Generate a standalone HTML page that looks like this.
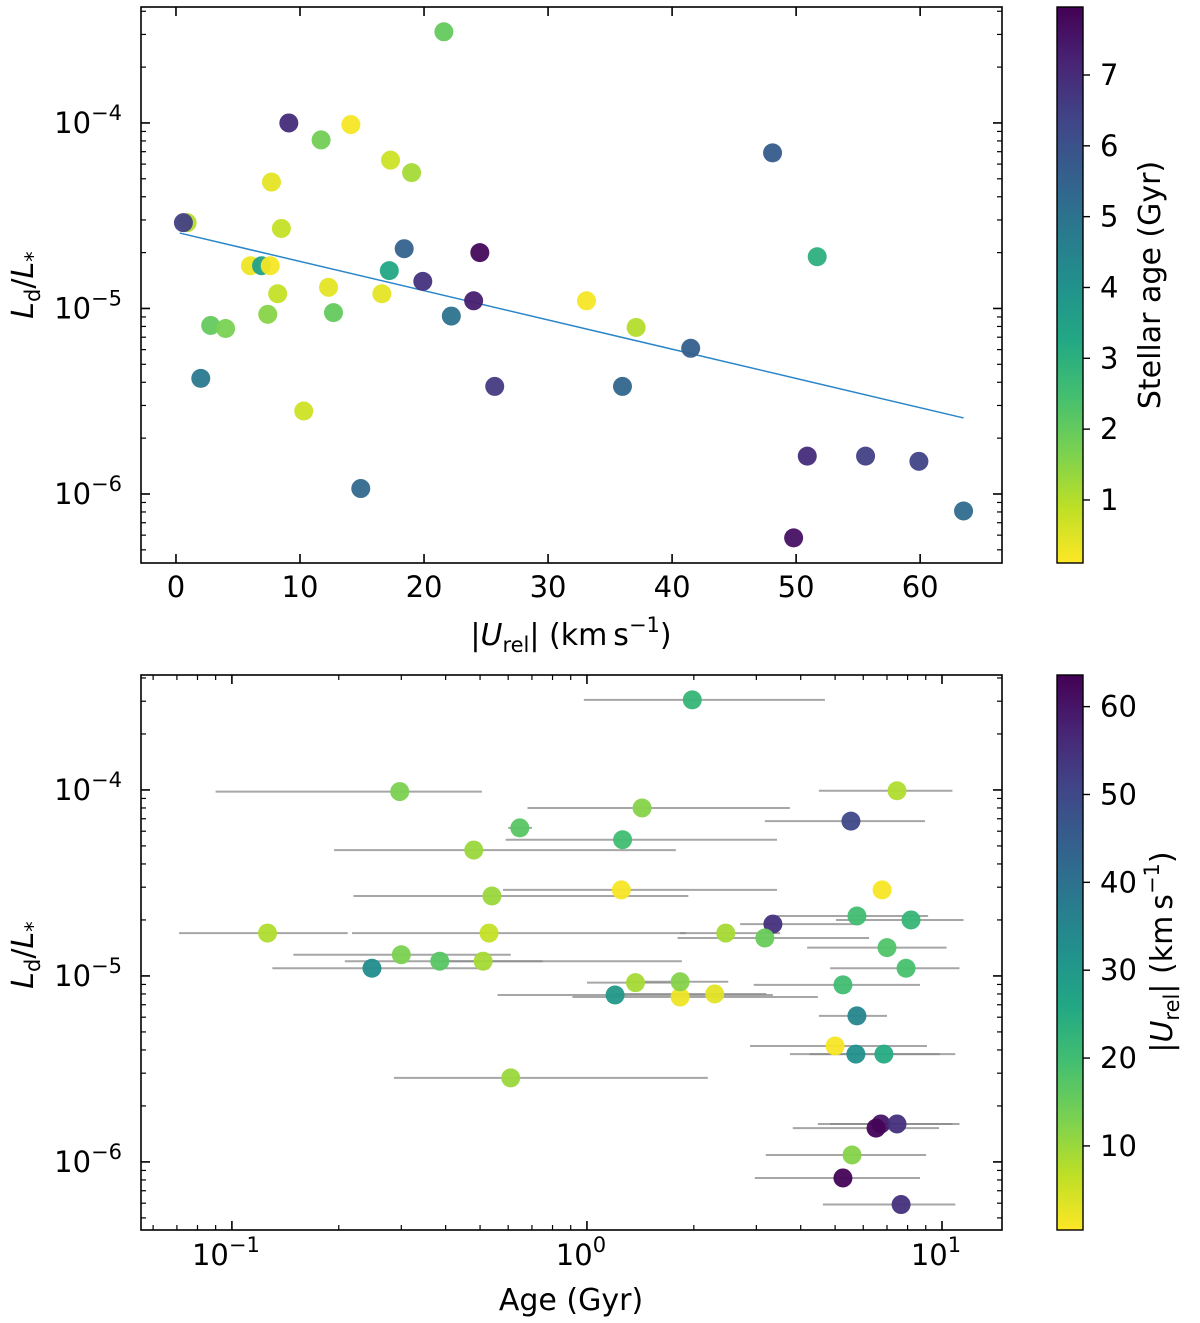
<!DOCTYPE html>
<html><head><meta charset="utf-8"><style>
body{margin:0;background:#fff}
svg{display:block;font-family:"DejaVu Sans","Liberation Sans",sans-serif}
</style></head><body>
<svg id="fig" width="1200" height="1323" viewBox="0 0 1200 1323"></svg>
<script>
// ---------- Top panel data ----------
const topU   = [21.6,9.1,11.7,14.1,17.3,19.0,7.7,8.5,0.9,0.6,6.0,6.9,7.6,8.2,7.4,2.8,4.0,2.0,10.3,12.3,12.7,16.6,17.2,18.4,19.9,22.2,24.5,24.0,25.7,14.9,33.1,37.1,36.0,41.5,48.1,51.7,50.9,55.6,59.9,49.8,63.5];
const topL   = [3.1e-4,1.0e-4,8.1e-5,9.8e-5,6.3e-5,5.4e-5,4.8e-5,2.7e-5,2.9e-5,2.9e-5,1.7e-5,1.7e-5,1.7e-5,1.2e-5,9.3e-6,8.1e-6,7.8e-6,4.2e-6,2.8e-6,1.3e-5,9.5e-6,1.2e-5,1.6e-5,2.1e-5,1.4e-5,9.1e-6,2.0e-5,1.1e-5,3.8e-6,1.07e-6,1.1e-5,7.9e-6,3.8e-6,6.1e-6,6.9e-5,1.9e-5,1.6e-6,1.6e-6,1.5e-6,5.8e-7,8.1e-7];
const topAge = [2.0,7.0,1.8,0.2,0.7,1.2,0.4,0.8,1.0,6.5,0.3,3.5,0.2,0.8,1.5,2.0,1.7,4.8,0.7,0.4,2.0,0.4,3.3,5.5,6.8,5.0,7.8,7.3,6.6,5.3,0.2,1.0,5.4,5.6,5.7,3.0,7.0,6.5,6.4,7.6,5.2];
const fitU = [0.3,63.5];
const fitL = [2.55e-5,2.57e-6];
const topXTicks = [0,10,20,30,40,50,60];
const ageTicks = [1,2,3,4,5,6,7];
// ---------- Bottom panel data ----------
const botAge = [1.98,7.47,1.43,5.54,1.26,0.48,1.25,0.54,6.78,0.126,0.53,2.46,3.34,5.76,8.18,3.17,7.0,7.92,5.26,0.248,0.30,0.385,0.51,1.20,1.37,1.83,2.29,1.83,5.76,5.0,5.72,6.86,0.61,6.73,7.47,6.52,5.58,5.26,7.67,0.297,0.647];
const botLo  = [0.98,4.50,0.68,3.17,0.59,0.194,0.58,0.22,6.78,0.071,0.218,1.83,2.70,3.43,5.03,1.80,4.17,4.84,2.95,0.130,0.149,0.208,0.38,0.56,1.0,0.91,1.2,1.3,4.50,2.88,3.73,4.24,0.286,4.47,4.84,3.80,3.19,2.97,4.62,0.090,0.60];
const botHi  = [4.68,10.7,3.73,8.96,3.43,1.78,3.43,1.93,6.78,0.212,1.90,3.50,5.87,9.14,11.5,6.23,10.3,11.2,8.67,0.53,0.61,1.85,0.75,3.34,1.9,4.47,3.2,2.5,7.0,9.07,9.87,10.9,2.19,10.7,11.2,9.81,9.02,8.67,10.9,0.506,0.70];
const botL   = [3.05e-4,9.9e-5,8.0e-5,6.8e-5,5.4e-5,4.75e-5,2.9e-5,2.69e-5,2.9e-5,1.7e-5,1.7e-5,1.7e-5,1.9e-5,2.1e-5,2.0e-5,1.6e-5,1.42e-5,1.1e-5,8.95e-6,1.1e-5,1.3e-5,1.2e-5,1.2e-5,7.9e-6,9.2e-6,7.7e-6,8.0e-6,9.3e-6,6.1e-6,4.2e-6,3.8e-6,3.8e-6,2.83e-6,1.6e-6,1.6e-6,1.52e-6,1.09e-6,8.2e-7,5.9e-7,9.8e-5,6.25e-5];
const botU   = [22,8,12,50,20,10,1,10,1,8,6,9,55,20,22,15,18,19,20,33,13,17,9,30,9,2,3,12,35,1,32,25,10,60,55,63,12,63,55,13,17];
const botXTickExp = [-1,0,1];
const uTicks = [10,20,30,40,50,60];
const yTickExp = [-4,-5,-6];

const NS="http://www.w3.org/2000/svg";
const svg=document.getElementById('fig');
function el(tag,attrs,parent){const e=document.createElementNS(NS,tag);for(const k in attrs)e.setAttribute(k,attrs[k]);(parent||svg).appendChild(e);return e;}
const VIR=['#440154','#482475','#414487','#355f8d','#2a788e','#21918c','#22a884','#44bf70','#7ad151','#bddf26','#fde725'];
function hex(h){return [1,3,5].map(i=>parseInt(h.substr(i,2),16));}
function viridis(t){t=Math.max(0,Math.min(1,t));const p=t*10,i=Math.min(9,Math.floor(p)),f=p-i;const a=hex(VIR[i]),b=hex(VIR[i+1]);return 'rgb('+a.map((v,k)=>Math.round(v+(b[k]-v)*f)).join(',')+')';}

const T={x0:141,x1:1002,y0:7,y1:563,xmin:-2.82,xmax:66.6,ymin:-6.372,ymax:-3.375};
const B={x0:141,x1:1002,y0:675,y1:1230,xmin:-1.256,xmax:1.169,ymin:-6.366,ymax:-3.382};
const tx=u=>T.x0+(u-T.xmin)/(T.xmax-T.xmin)*(T.x1-T.x0);
const ty=l=>T.y1-(Math.log10(l)-T.ymin)/(T.ymax-T.ymin)*(T.y1-T.y0);
const bx=a=>B.x0+(Math.log10(a)-B.xmin)/(B.xmax-B.xmin)*(B.x1-B.x0);
const by=l=>B.y1-(Math.log10(l)-B.ymin)/(B.ymax-B.ymin)*(B.y1-B.y0);

function sup(g,x,y,base,exp,anchor){
  const t=el('text',{x:x,y:y,'font-size':29,'text-anchor':anchor||'end'},g);
  t.appendChild(document.createTextNode(base));
  const s=el('tspan',{dy:-13,'font-size':21},t);s.textContent=exp;return t;
}
function logYTicks(A,yf,g){
  for(let e=-7;e<=-3;e++){
    for(let m=1;m<10;m++){
      const v=m*Math.pow(10,e);const lv=Math.log10(v);
      if(lv<A.ymin||lv>A.ymax)continue;
      const y=yf(v);const len=m===1?9:5;
      el('line',{x1:A.x0,x2:A.x0+len,y1:y,y2:y,stroke:'#000','stroke-width':m===1?1.6:1.2},g);
      el('line',{x1:A.x1,x2:A.x1-len,y1:y,y2:y,stroke:'#000','stroke-width':m===1?1.6:1.2},g);
    }
  }
  yTickExp.forEach(e=>{const y=yf(Math.pow(10,e));const t=sup(g,122,y+10,'10','\u2212'+(-e));
    });
}

// ---------- TOP ----------
const gT=el('g',{});
el('rect',{x:T.x0,y:T.y0,width:T.x1-T.x0,height:T.y1-T.y0,fill:'none',stroke:'#000','stroke-width':1.6},gT);
topXTicks.forEach(v=>{const x=tx(v);
  el('line',{x1:x,x2:x,y1:T.y1,y2:T.y1-9,stroke:'#000','stroke-width':1.6},gT);
  el('line',{x1:x,x2:x,y1:T.y0,y2:T.y0+9,stroke:'#000','stroke-width':1.6},gT);
  const t=el('text',{x:x,y:597,'font-size':29,'text-anchor':'middle'},gT);t.textContent=v;
  });
logYTicks(T,ty,gT);
const fl=el('line',{x1:tx(fitU[0]),y1:ty(fitL[0]),x2:tx(fitU[1]),y2:ty(fitL[1]),stroke:'#2a86c8','stroke-width':1.5},gT);

topU.forEach((u,i)=>{const c=el('circle',{cx:tx(u),cy:ty(topL[i]),r:9.5,fill:viridis(1-(topAge[i]-0.11)/(7.96-0.11)),'fill-opacity':0.95},gT);
  });
{const t=el('text',{x:571,y:645,'font-size':30,'text-anchor':'middle',},gT);
 t.innerHTML='|<tspan font-style="italic">U</tspan><tspan font-size="21" dy="7">rel</tspan><tspan dy="-7">| (km\u2009s</tspan><tspan font-size="21" dy="-13">\u22121</tspan><tspan dy="13">)</tspan>';}
{const t=el('text',{transform:'translate(33,285) rotate(-90)','font-size':30,'text-anchor':'middle',},gT);
 t.innerHTML='<tspan font-style="italic">L</tspan><tspan font-size="21" dy="7">d</tspan><tspan dy="-7">/</tspan><tspan font-style="italic">L</tspan><tspan font-size="21" dy="7">*</tspan>';}

// ---------- BOTTOM ----------
const gB=el('g',{});
el('rect',{x:B.x0,y:B.y0,width:B.x1-B.x0,height:B.y1-B.y0,fill:'none',stroke:'#000','stroke-width':1.6},gB);
for(let e=-2;e<=1;e++)for(let m=1;m<10;m++){const v=m*Math.pow(10,e),lv=Math.log10(v);
  if(lv<B.xmin||lv>B.xmax)continue;const x=bx(v),len=m===1?9:5;
  el('line',{x1:x,x2:x,y1:B.y1,y2:B.y1-len,stroke:'#000','stroke-width':m===1?1.6:1.2},gB);
  el('line',{x1:x,x2:x,y1:B.y0,y2:B.y0+len,stroke:'#000','stroke-width':m===1?1.6:1.2},gB);}
botXTickExp.forEach(e=>{const t=sup(gB,bx(Math.pow(10,e))-6,1265,'10',e<0?'\u2212'+(-e):String(e),'middle');
  });
logYTicks(B,by,gB);
botAge.forEach((a,i)=>{const y=by(botL[i]);
  const l=el('line',{x1:bx(botLo[i]),x2:bx(botHi[i]),y1:y,y2:y,stroke:'#888','stroke-width':2,'stroke-opacity':0.75},gB);
  });
botAge.forEach((a,i)=>{const c=el('circle',{cx:bx(a),cy:by(botL[i]),r:9.5,fill:viridis(1-(botU[i]-0.43)/(63.6-0.43)),'fill-opacity':0.95},gB);
  });
{const t=el('text',{x:571,y:1310,'font-size':30,'text-anchor':'middle',},gB);t.textContent='Age (Gyr)';}
{const t=el('text',{transform:'translate(33,955) rotate(-90)','font-size':30,'text-anchor':'middle',},gB);
 t.innerHTML='<tspan font-style="italic">L</tspan><tspan font-size="21" dy="7">d</tspan><tspan dy="-7">/</tspan><tspan font-style="italic">L</tspan><tspan font-size="21" dy="7">*</tspan>';}

// ---------- Colorbars ----------
const defs=el('defs',{});
const gr=el('linearGradient',{id:'vg',x1:0,y1:1,x2:0,y2:0},defs);
VIR.slice().reverse().forEach((c,i)=>el('stop',{offset:i/10,'stop-color':c},gr));
function cbar(y0,y1,vmin,vmax,ticks,name){
  const g=el('g',{});
  el('rect',{x:1057,y:y0,width:26,height:y1-y0,fill:'url(#vg)',stroke:'#000','stroke-width':1.4},g);
  ticks.forEach(v=>{const y=y1-(v-vmin)/(vmax-vmin)*(y1-y0);
    el('line',{x1:1083,x2:1090,y1:y,y2:y,stroke:'#000','stroke-width':1.4},g);
    const t=el('text',{x:1100,y:y+10,'font-size':29},g);t.textContent=v;
    });
  return g;
}
const c1=cbar(7,563,0.11,7.96,ageTicks,'age-colorbar');
{const t=el('text',{transform:'translate(1160,285) rotate(-90)','font-size':30,'text-anchor':'middle',},c1);t.textContent='Stellar age (Gyr)';}
const c2=cbar(675,1230,0.43,63.6,uTicks,'velocity-colorbar');
{const t=el('text',{transform:'translate(1172,952) rotate(-90)','font-size':30,'text-anchor':'middle',},c2);
 t.innerHTML='|<tspan font-style="italic">U</tspan><tspan font-size="21" dy="7">rel</tspan><tspan dy="-7">| (km\u2009s</tspan><tspan font-size="21" dy="-13">\u22121</tspan><tspan dy="13">)</tspan>';}
</script>
</body></html>
